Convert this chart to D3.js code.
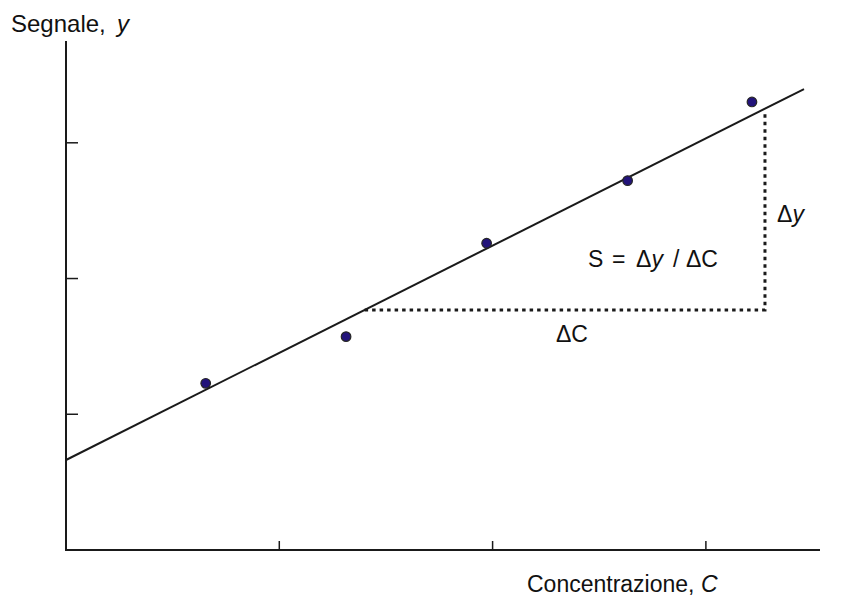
<!DOCTYPE html>
<html>
<head>
<meta charset="utf-8">
<script src="https://cdn.jsdelivr.net/npm/d3@7"></script>
<style>
  body { margin: 0; background: #fff; }
  text { font-family: "Liberation Sans", Arial, sans-serif; fill: #111; }
</style>
</head>
<body>
<svg id="chart" width="847" height="596"></svg>
<script>
// data
var concValues = [0.655, 1.313, 1.972, 2.633, 3.216];
var signalValues = [1.228, 1.572, 2.260, 2.721, 3.301];
var xTicks = [1, 2, 3];
var yTicks = [1, 2, 3];
// fitted line end points
var fitX = [0, 3.46];
var fitY = [0.663, 3.396];
// slope triangle corners (dotted)
var triX = [1.40, 3.277, 3.277];
var triY = [1.769, 1.769, 3.22];

var svg = d3.select('#chart');
var x = d3.scaleLinear().domain([0, 3.535]).range([66, 820]);
var y = d3.scaleLinear().domain([0, 3.75]).range([550, 41]);

// axes
svg.append('line')
  .attr('x1', x(0)).attr('x2', x(0))
  .attr('y1', y(0) + 1).attr('y2', y(3.75))
  .attr('stroke', '#1a1a1a').attr('stroke-width', 2);
svg.append('line')
  .attr('x1', x(0) - 1).attr('x2', x(3.535))
  .attr('y1', y(0)).attr('y2', y(0))
  .attr('stroke', '#1a1a1a').attr('stroke-width', 2);

// ticks pointing inside
svg.selectAll('.ytick').data(yTicks).enter().append('line')
  .attr('class', 'ytick')
  .attr('x1', x(0)).attr('x2', x(0) + 12)
  .attr('y1', d => y(d)).attr('y2', d => y(d))
  .attr('stroke', '#1a1a1a').attr('stroke-width', 1.5);
svg.selectAll('.xtick').data(xTicks).enter().append('line')
  .attr('class', 'xtick')
  .attr('x1', d => x(d)).attr('x2', d => x(d))
  .attr('y1', y(0)).attr('y2', y(0) - 9)
  .attr('stroke', '#1a1a1a').attr('stroke-width', 1.5);

// fit line
var line = d3.line().x(d => x(d[0])).y(d => y(d[1]));
svg.append('path')
  .attr('d', line(d3.zip(fitX, fitY)))
  .attr('fill', 'none').attr('stroke', '#1a1a1a').attr('stroke-width', 2);

// dotted slope triangle
svg.append('path')
  .attr('d', line(d3.zip(triX, triY)))
  .attr('fill', 'none').attr('stroke', '#1a1a1a')
  .attr('stroke-width', 3).attr('stroke-dasharray', '3.5,4');

// points
svg.selectAll('.pt').data(d3.zip(concValues, signalValues)).enter().append('circle')
  .attr('class', 'pt')
  .attr('cx', d => x(d[0])).attr('cy', d => y(d[1]))
  .attr('r', 4.8)
  .attr('fill', '#22137a').attr('stroke', '#262626').attr('stroke-width', 1.2);

// labels
var fs = '23px';
var t1 = svg.append('text').attr('x', 11).attr('y', 32).style('font-size', '24px');
t1.append('tspan').text('Segnale,');
t1.append('tspan').attr('x', 117).style('font-style', 'italic').text('y');

var t2 = svg.append('text').attr('x', 527).attr('y', 592).style('font-size', fs);
t2.append('tspan').text('Concentrazione, ');
t2.append('tspan').style('font-style', 'italic').text('C');

var t3 = svg.append('text').attr('y', 267).style('font-size', fs);
t3.append('tspan').attr('x', 588).text('S');
t3.append('tspan').attr('x', 612).text('=');
t3.append('tspan').attr('x', 636).text('\u0394');
t3.append('tspan').style('font-style', 'italic').text('y');
t3.append('tspan').attr('x', 673).text('/');
t3.append('tspan').attr('x', 686).text('\u0394C');

var t4 = svg.append('text').attr('x', 777).attr('y', 222).style('font-size', fs);
t4.append('tspan').text('\u0394');
t4.append('tspan').style('font-style', 'italic').text('y');

var t5 = svg.append('text').attr('x', 556).attr('y', 342).style('font-size', fs);
t5.append('tspan').text('\u0394C');
</script>
</body>
</html>
